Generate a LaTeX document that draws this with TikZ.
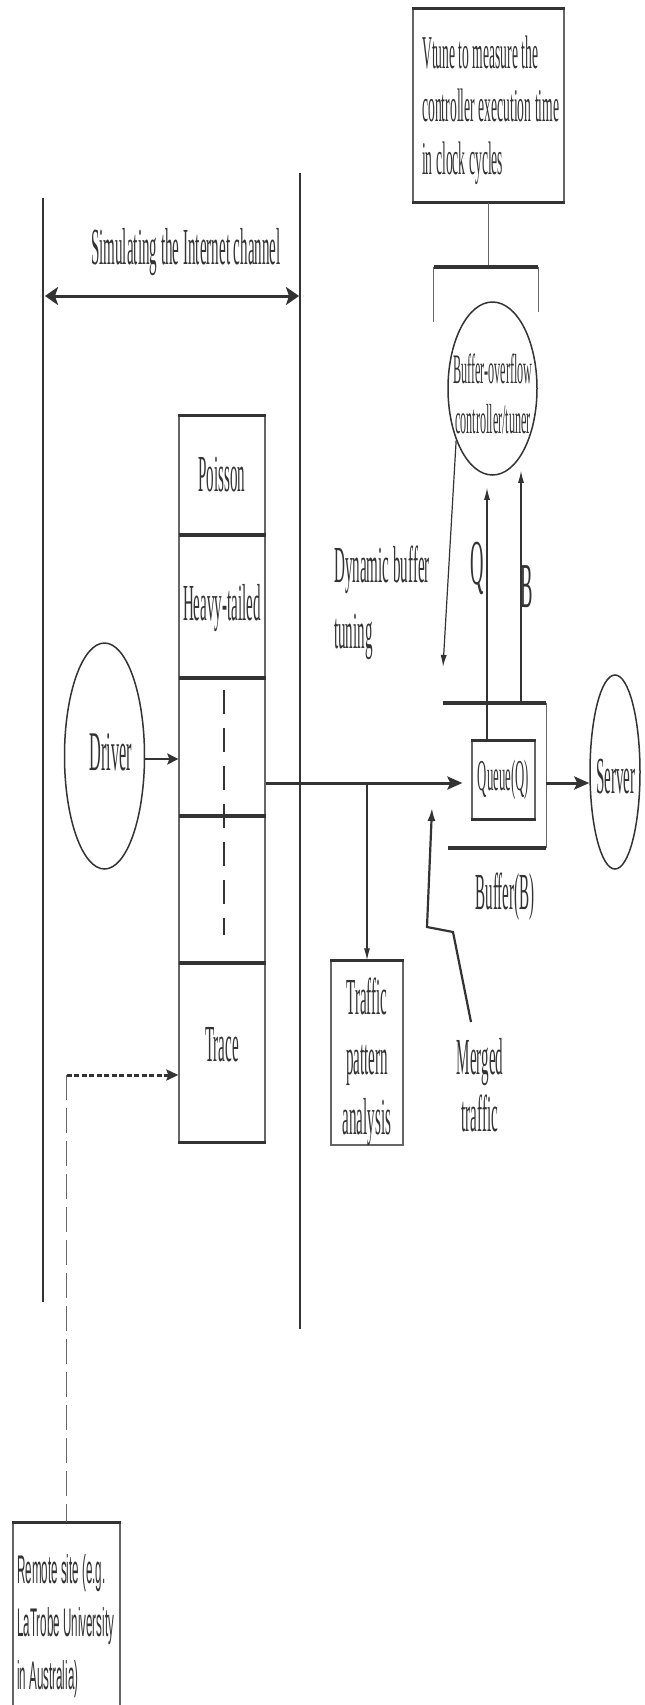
\documentclass[tikz,border=0pt]{standalone}
\usepackage{fontspec}
\setmainfont{Liberation Serif}[FakeStretch=0.29]
\newfontfamily\remfont{Liberation Sans}[FakeStretch=0.29]
\usetikzlibrary{arrows.meta,shapes.geometric}
\definecolor{ink}{HTML}{333333}
\definecolor{side}{HTML}{666666}
\begin{document}
\begin{tikzpicture}[x=1pt,y=-1pt,
  sideline/.style={draw=side, line width=1.3pt},
  thickbar/.style={draw=ink, line width=3.6pt},
  longline/.style={draw=ink, line width=2pt},
  thinarrow/.style={draw=ink, line width=1.2pt, -{Latex[length=12pt,width=6pt]}},
  bigarrow/.style={draw=ink, line width=3pt, -{Stealth[length=15pt,width=13pt,inset=3pt]}},
  lbl/.style={text=ink, inner sep=0pt, font=\fontsize{52}{60}\selectfont},
  boxnode/.style={rectangle, sideline, inner sep=0pt},
  ell/.style={ellipse, draw=ink, line width=1.5pt, inner sep=0pt}
]
\useasboundingbox (0,0) rectangle (645,1705);

% channel lines
\coordinate (lvt) at (43,198);
\coordinate (lvb) at (43,1302);
\coordinate (rvt) at (300,173);
\coordinate (rvb) at (300,1329);
\draw[longline] (lvt) -- (lvb);
\draw[longline] (rvt) -- (rvb);
\coordinate (dal) at (45,296);
\coordinate (dar) at (299,296);
\draw[draw=ink, line width=3pt, {Stealth[length=13pt,width=18pt,inset=3pt]}-{Stealth[length=13pt,width=18pt,inset=3pt]}] (dal) -- (dar);
\node[lbl] (simtxt) at (186,252) {Simulating the Internet channel};

% Vtune box
\node[boxnode, minimum width=151pt, minimum height=193pt] (vtune) at (488.5,105.5) {};
\draw[thickbar] (vtune.north west) -- (vtune.north east);
\draw[thickbar] (vtune.south west) -- (vtune.south east);
\node[lbl, font=\fontsize{47}{53}\selectfont, align=left, anchor=west] (vtunetxt) at (422,110) {Vtune to measure the\\controller execution time\\in clock cycles};

% bracket around controller
\node[rectangle, inner sep=0pt, minimum width=104pt, minimum height=55pt] (brk) at (486,294.5) {};
\draw[sideline] (vtune.south) -- (vtune.south |- brk.north);
\draw[sideline] (brk.north west) -- (brk.south west);
\draw[sideline] (brk.north east) -- ([yshift=10pt]brk.south east);
\draw[thickbar] (brk.north west) -- (brk.north east);

% controller ellipse
\node[ell, minimum width=89pt, minimum height=173pt] (ctrl) at (492.5,388.5) {};
\node[lbl, align=center, font=\fontsize{42}{50}\selectfont] (ctrltxt) at (493,394) {Buffer-overflow\\controller/tuner};

% buffer and queue
\node[rectangle, inner sep=0pt, minimum width=103pt, minimum height=145pt] (buffer) at (494.5,775.5) {};
\draw[thickbar] (buffer.north west) -- (buffer.north east);
\draw[sideline] (buffer.north east) -- (buffer.south east);
\draw[thickbar] ([xshift=5pt]buffer.south west) -- (buffer.south east);
\node[boxnode, minimum width=63pt, minimum height=78pt, text=ink, font=\fontsize{44}{44}\selectfont] (queue) at (503.5,780) {Queue(Q)};
\draw[thickbar] (queue.north west) -- (queue.north east);
\draw[thickbar] (queue.south west) -- (queue.south east);
\node[lbl] (buftxt) at (505,897) {Buffer(B)};

% server
\node[ell, minimum width=50pt, minimum height=194pt] (server) at (615,772) {};
\node[lbl, font=\fontsize{52}{52}\selectfont] (servtxt) at (616,777) {Server};

% controller arrows
\draw[thinarrow] (ctrl.235) -- (443,667);
\draw[thinarrow] ([xshift=-16.5pt]queue.north) -- ([xshift=-5.5pt,yshift=-12pt]ctrl.south);
\draw[thinarrow] ([xshift=26.5pt]buffer.north) -- ([xshift=28.5pt,yshift=5pt]ctrl.south);
\node[lbl, font=\fontsize{64}{64}\selectfont] (qlbl) at (477,568) {Q};
\node[lbl, font=\fontsize{64}{64}\selectfont] (blbl) at (527,587) {B};
\node[lbl, align=left, anchor=west, font=\fontsize{52}{66}\selectfont] (dyntxt) at (334,603) {Dynamic buffer\\tuning};

% pool
\node[boxnode, minimum width=86pt, minimum height=726pt] (pool) at (222,779) {};
\draw[thickbar] (pool.north west) -- (pool.north east);
\draw[thickbar] (pool.south west) -- (pool.south east);
\coordinate (d1) at (179,535);
\coordinate (d2) at (179,678);
\coordinate (d3) at (179,816);
\coordinate (d4) at (179,963);
\foreach \d in {d1,d2,d3,d4} \draw[thickbar] (\d) -- (\d -| pool.east);
\node[lbl] (poisson) at (222,475) {Poisson};
\node[lbl] (heavy) at (222,608) {Heavy-tailed};
\node[lbl] (trace) at (222,1045) {Trace};
\draw[draw=ink, line width=1.3pt, dash pattern=on 24pt off 14pt] (224,690) -- (224,935);

% driver
\node[ell, minimum width=80pt, minimum height=226pt] (driver) at (104.5,756) {};
\node[lbl, font=\fontsize{56}{56}\selectfont] (drvtxt) at (111,752) {Driver};
\draw[draw=ink, line width=2.5pt, -{Stealth[length=11pt,width=11pt,inset=2pt]}] ([yshift=-3pt]driver.east) -- ([yshift=-3pt]driver.east -| pool.west);

% main flow
\draw[bigarrow] ([yshift=-4pt]pool.east) -- ([xshift=-9pt,yshift=-3pt]queue.west);
\draw[bigarrow] ([yshift=-3pt]queue.east -| buffer.east) -- ([yshift=-3pt]queue.east -| server.west);

% traffic analysis
\node[boxnode, minimum width=72pt, minimum height=184pt] (traffic) at (367,1053) {};
\draw[thickbar] (traffic.north west) -- (traffic.north east);
\node[lbl, align=center] (traftxt) at (367,1062) {Traffic\\pattern\\analysis};
\draw[thinarrow] ([yshift=-4pt]traffic.north |- pool.east) -- (traffic.north);

% merged traffic
\node[lbl, align=center, font=\fontsize{52}{57}\selectfont] (merged) at (480,1085) {Merged\\traffic};
\coordinate (mg1) at (471,1022);
\coordinate (mg2) at (453,932);
\coordinate (mg3) at (427,927);
\coordinate (mgtip) at (432,808);
\draw[draw=ink, line width=2.2pt, -{Latex[length=13pt,width=8pt]}] (mg1) -- (mg2) -- (mg3) -- (mgtip);

% remote site
\node[boxnode, minimum width=107pt, minimum height=200pt] (remote) at (66.5,1623) {};
\draw[thickbar] (remote.north west) -- (remote.north east);
\node[text=ink, inner sep=0pt, align=left, anchor=west, font=\remfont\fontsize{40}{53}\selectfont] (remtxt) at (17,1626) {Remote site (e.g.\\LaTrobe University\\in Australia)};
\coordinate (rm) at (66.5,1075);
\draw[draw=side, line width=1.3pt, dash pattern=on 25pt off 8pt] (rm) -- (remote.north);
\draw[draw=ink, line width=3pt, dash pattern=on 5pt off 2.5pt, -{Stealth[length=12pt,width=11pt,inset=2pt]}] (rm) -- (rm -| pool.west);
\end{tikzpicture}
\end{document}
